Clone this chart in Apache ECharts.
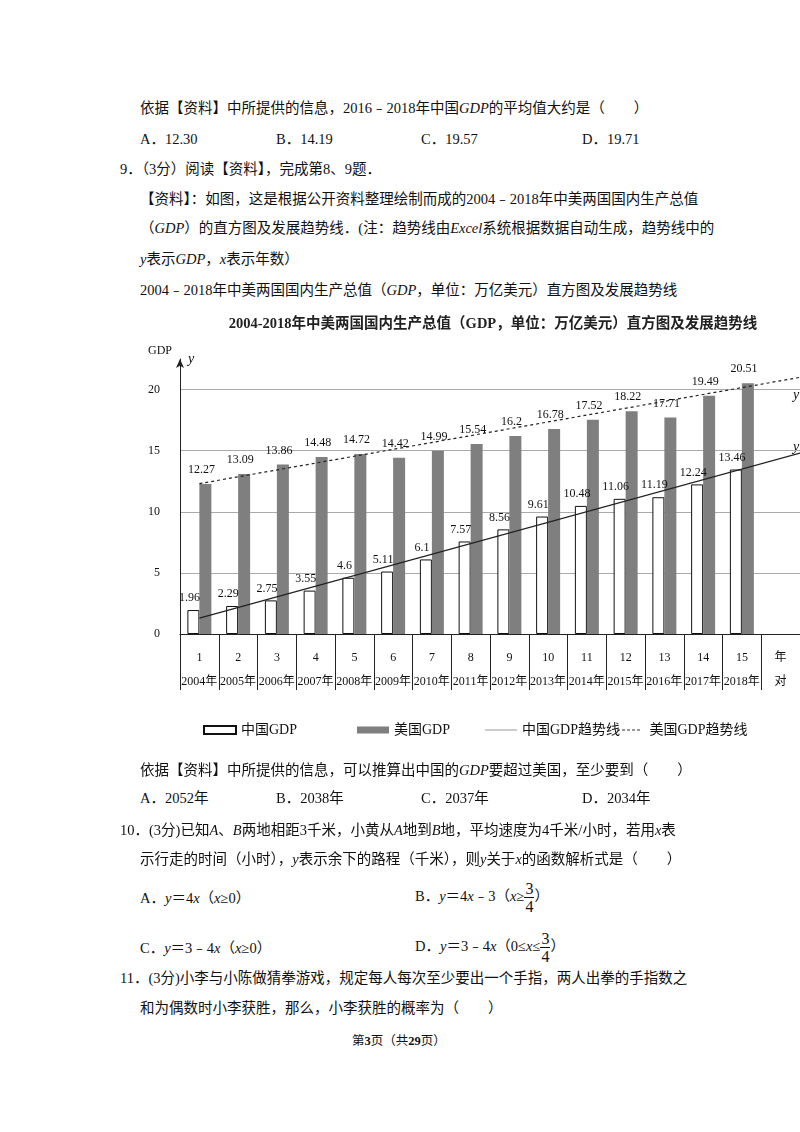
<!DOCTYPE html>
<html><head><meta charset="utf-8">
<script src="https://cdn.jsdelivr.net/npm/echarts@6/dist/echarts.min.js"></script>
<style>
body{margin:0;background:#fff;width:800px;height:1132px;position:relative;overflow:hidden;font-family:"Liberation Serif","Noto Sans CJK SC",serif;color:#111;}
.t{position:absolute;font-size:14.5px;white-space:nowrap;line-height:20px;}
i{font-family:"Liberation Serif",serif;}
#c{position:absolute;left:0;top:300px;width:800px;height:470px;}
.fr{display:inline-block;vertical-align:middle;text-align:center;font-size:16px;line-height:17px;}
.fr span{display:block;padding:0 1px;}
</style></head><body>
<div class="t" style="left:140px;top:98px">依据【资料】中所提供的信息，2016﹣2018年中国<i>GDP</i>的平均值大约是（　　）</div>
<div class="t" style="left:140px;top:129px">A．12.30</div>
<div class="t" style="left:276px;top:129px">B．14.19</div>
<div class="t" style="left:421px;top:129px">C．19.57</div>
<div class="t" style="left:582px;top:129px">D．19.71</div>
<div class="t" style="left:120px;top:159px">9．（3分）阅读【资料】，完成第8、9题．</div>
<div class="t" style="left:140px;top:189px">【资料】：如图，这是根据公开资料整理绘制而成的2004﹣2018年中美两国国内生产总值</div>
<div class="t" style="left:140px;top:218px">（<i>GDP</i>）的直方图及发展趋势线．(注：趋势线由<i>Excel</i>系统根据数据自动生成，趋势线中的</div>
<div class="t" style="left:140px;top:249px"><i>y</i>表示<i>GDP</i>，<i>x</i>表示年数）</div>
<div class="t" style="left:140px;top:280px">2004﹣2018年中美两国国内生产总值（<i>GDP</i>，单位：万亿美元）直方图及发展趋势线</div>
<div id="c"></div>
<div class="t" style="left:140px;top:760px">依据【资料】中所提供的信息，可以推算出中国的<i>GDP</i>要超过美国，至少要到（　　）</div>
<div class="t" style="left:140px;top:788px">A．2052年</div>
<div class="t" style="left:276px;top:788px">B．2038年</div>
<div class="t" style="left:421px;top:788px">C．2037年</div>
<div class="t" style="left:582px;top:788px">D．2034年</div>
<div class="t" style="left:120px;top:820px">10．(3分)已知<i>A</i>、<i>B</i>两地相距3千米，小黄从<i>A</i>地到<i>B</i>地，平均速度为4千米/小时，若用<i>x</i>表</div>
<div class="t" style="left:140px;top:849px">示行走的时间（小时），<i>y</i>表示余下的路程（千米），则<i>y</i>关于<i>x</i>的函数解析式是（　　）</div>
<div class="t" style="left:140px;top:888px">A．<i>y</i>＝4<i>x</i>（<i>x</i>≥0）</div>
<div class="t" style="left:415px;top:880px">B．<i>y</i>＝4<i>x</i>﹣3（<i>x</i>≥<span class="fr"><span style="border-bottom:1px solid #111">3</span><span>4</span></span>）</div>
<div class="t" style="left:140px;top:938px">C．<i>y</i>＝3﹣4<i>x</i>（<i>x</i>≥0）</div>
<div class="t" style="left:415px;top:930px">D．<i>y</i>＝3﹣4<i>x</i>（0≤<i>x</i>≤<span class="fr"><span style="border-bottom:1px solid #111">3</span><span>4</span></span>）</div>
<div class="t" style="left:120px;top:968px">11．(3分)小李与小陈做猜拳游戏，规定每人每次至少要出一个手指，两人出拳的手指数之</div>
<div class="t" style="left:140px;top:998px">和为偶数时小李获胜，那么，小李获胜的概率为（　　）</div>
<div class="t" style="left:352px;top:1031px;font-size:12.5px">第<b>3</b>页（共<b>29</b>页）</div>
<script>
const nums=['1','2','3','4','5','6','7','8','9','10','11','12','13','14','15','年'];
const years=['2004年','2005年','2006年','2007年','2008年','2009年','2010年','2011年','2012年','2013年','2014年','2015年','2016年','2017年','2018年','对'];
const china=[1.96,2.29,2.75,3.55,4.6,5.11,6.1,7.57,8.56,9.61,10.48,11.06,11.19,12.24,13.46,'-'];
const usa=[12.27,13.09,13.86,14.48,14.72,14.42,14.99,15.54,16.2,16.78,17.52,18.22,17.71,19.49,20.51,'-'];
const chinaTrend=[[1,1.3],[16.5,14.8]];
const usaTrend=[[1,12.3],[16.5,21.0]];
const cats=nums.map((n,i)=>n+'\n'+years[i]);
const ch=echarts.init(document.getElementById('c'));
const F='"Liberation Serif","Noto Sans CJK SC",serif';
const dash='path://M0,0h3v1h-3zM5,0h3v1h-3zM10,0h3v1h-3zM15,0h3v1h-3zM20,0h3v1h-3z';
const lg=(name,left,icon,h,color)=>({data:[{name,icon,itemStyle:{color:color}}],left,top:418,itemGap:4,itemWidth:32,itemHeight:h,textStyle:{fontSize:14,fontFamily:F,color:'#111'}});
ch.setOption({
 animation:false,
 title:{text:'2004-2018年中美两国国内生产总值（GDP，单位：万亿美元）直方图及发展趋势线',left:488,top:12,textAlign:'center',textStyle:{fontSize:14.5,fontWeight:'bold',fontFamily:F,color:'#222'}},
 legend:[lg('中国GDP',198,'rect',8,'#fff'),lg('美国GDP',352,'rect',7,'#7f7f7f'),lg('中国GDP趋势线',480,'rect',1,'#999'),lg('美国GDP趋势线',612,dash,1,'#333')],
 grid:{left:180,right:-22,top:59,bottom:136},
 xAxis:[{type:'category',data:cats,boundaryGap:true,
   axisLine:{lineStyle:{color:'#222'}},
   axisTick:{show:true,length:56,interval:0,lineStyle:{color:'#222'}},
   axisLabel:{interval:0,margin:12,fontFamily:F,fontSize:12,color:'#111',lineHeight:24}},
  {type:'value',min:0.5,max:16.5,show:false}],
 yAxis:{type:'value',min:0,max:22.5,interval:5,
   axisLine:{show:true,symbol:['none','arrow'],symbolSize:[6,9],lineStyle:{color:'#222'}},
   axisTick:{show:false},
   axisLabel:{showMaxLabel:false,fontFamily:F,fontSize:12,color:'#111',margin:20},
   splitLine:{show:true,showMaxLine:false,lineStyle:{color:'#aaa',width:1}},
   name:'GDP',nameLocation:'end',nameGap:2,nameTextStyle:{fontFamily:F,fontSize:12,color:'#111',align:'right',padding:[0,8,0,0]}},
 graphic:[{type:'text',left:188,top:52,style:{text:'y',font:'italic 14px "Liberation Serif"',fill:'#111'}},
   {type:'text',left:793,top:88,style:{text:'y',font:'italic 14px "Liberation Serif"',fill:'#111'}},
   {type:'text',left:793,top:140,style:{text:'y',font:'italic 14px "Liberation Serif"',fill:'#111'}}],
 series:[
  {name:'中国GDP',type:'bar',data:china,barWidth:12,barGap:'0%',itemStyle:{color:'#fff',borderColor:'#111',borderWidth:1},
   label:{show:true,position:'top',distance:6,fontFamily:F,fontSize:12,color:'#111',offset:[-4,0]}},
  {name:'美国GDP',type:'bar',data:usa,barWidth:12,itemStyle:{color:'#7f7f7f'},
   label:{show:true,position:'top',distance:8,fontFamily:F,fontSize:12,color:'#111',offset:[-4,0]}},
  {name:'中国GDP趋势线',type:'line',xAxisIndex:1,data:chinaTrend,symbol:'none',lineStyle:{color:'#222',width:1.2}},
  {name:'美国GDP趋势线',type:'line',xAxisIndex:1,data:usaTrend,symbol:'none',lineStyle:{color:'#222',width:1.2,type:[3,3]}}
 ]
});
</script></body></html>
